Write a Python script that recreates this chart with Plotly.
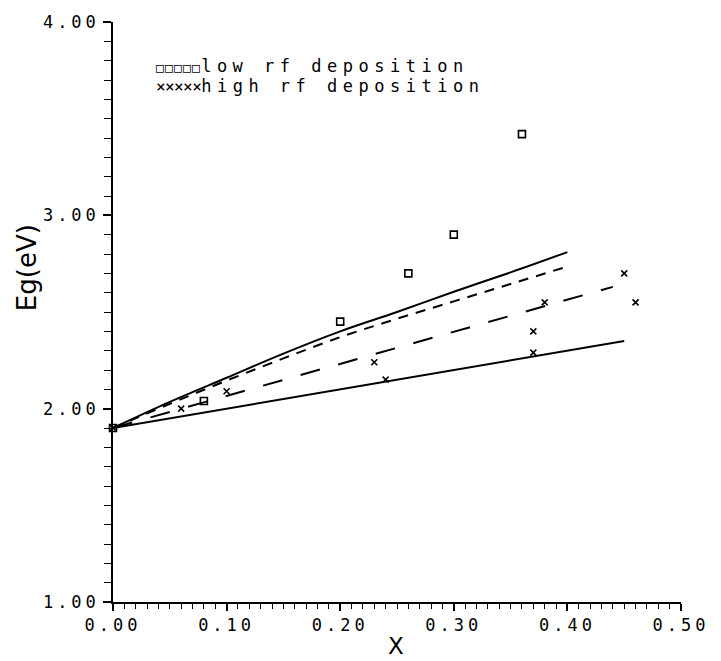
import plotly.graph_objects as go

# ---- data ----
low_x = [0.00, 0.08, 0.20, 0.26, 0.30, 0.36]
low_y = [1.90, 2.04, 2.45, 2.70, 2.90, 3.42]

high_x = [0.00, 0.06, 0.10, 0.23, 0.24, 0.37, 0.37, 0.38, 0.45, 0.46]
high_y = [1.90, 2.00, 2.09, 2.24, 2.15, 2.40, 2.29, 2.55, 2.70, 2.55]

upper_x = [0.00, 0.05, 0.10, 0.15, 0.20, 0.25, 0.30, 0.35, 0.40]
upper_y = [1.90, 2.035, 2.16, 2.285, 2.40, 2.50, 2.605, 2.705, 2.81]

short_x = [0.00, 0.05, 0.10, 0.15, 0.20, 0.25, 0.30, 0.35, 0.40]
short_y = [1.90, 2.025, 2.145, 2.26, 2.37, 2.465, 2.555, 2.645, 2.735]

long_x = [0.00, 0.44]
long_y = [1.90, 2.63]

lower_x = [0.00, 0.45]
lower_y = [1.90, 2.35]

x_ticks = [0.0, 0.1, 0.2, 0.3, 0.4, 0.5]
x_ticklabels = ["0.00", "0.10", "0.20", "0.30", "0.40", "0.50"]
y_ticks = [1, 2, 3, 4]
y_ticklabels = ["1.00", "2.00", "3.00", "4.00"]

legend_labels = ["low rf deposition", "high rf deposition"]
legend_marks = ["\u25a1", "\u00d7"]
legend_mark_sizes = [13, 16]

MONO = "DejaVu Sans Mono"
SANS = "DejaVu Sans"


def spaced(s, px):
    return '<span style="letter-spacing:%spx">%s</span>' % (px, s)


fig = go.Figure()

line_style = dict(color="black", width=2)
fig.add_trace(go.Scatter(x=upper_x, y=upper_y, mode="lines", line=dict(line_style, shape="spline"),
                         showlegend=False))
fig.add_trace(go.Scatter(x=short_x, y=short_y, mode="lines",
                         line=dict(line_style, dash="10px,8px", shape="spline"), showlegend=False))
fig.add_trace(go.Scatter(x=long_x, y=long_y, mode="lines",
                         line=dict(line_style, dash="20px,19px"), showlegend=False))
fig.add_trace(go.Scatter(x=lower_x, y=lower_y, mode="lines", line=line_style, showlegend=False))

fig.add_trace(go.Scatter(x=low_x, y=low_y, mode="markers", cliponaxis=False,
                         marker=dict(symbol="square-open", size=7, color="black", line=dict(width=1.6)),
                         showlegend=False))
fig.add_trace(go.Scatter(x=high_x, y=high_y, mode="markers", cliponaxis=False,
                         marker=dict(symbol="x-thin-open", size=6, color="black",
                                     line=dict(width=1.6, color="black")),
                         showlegend=False))

# legend drawn as text, as in the reference
legend_y = [0.924, 0.890]
for mark, msize, label, yy in zip(legend_marks, legend_mark_sizes, legend_labels, legend_y):
    marks = '<span style="font-size:%dpx;letter-spacing:%spx">%s</span>' % (
        msize, 9 - msize * 0.6, mark * 5)
    txt = marks + spaced(label, 5.5)
    fig.add_annotation(xref="paper", yref="paper", x=0.072, y=yy, xanchor="left", yanchor="middle",
                       text=txt, showarrow=False,
                       font=dict(family=MONO, size=17, color="black"))

# axis titles placed as in the reference
fig.add_annotation(xref="paper", yref="paper", x=-0.150, y=0.577, xanchor="center", yanchor="middle",
                   text="Eg(eV)", textangle=-90, showarrow=False,
                   font=dict(family=SANS, size=26, color="black"))
fig.add_annotation(xref="paper", yref="paper", x=0.498, y=-0.076, xanchor="center", yanchor="middle",
                   text="X", showarrow=False,
                   font=dict(family=SANS, size=23, color="black"))

tickfont = dict(family=MONO, size=17, color="black")
fig.update_xaxes(showline=True, linecolor="black", linewidth=1.5, showgrid=False, zeroline=False,
                 ticks="outside", tickcolor="black", tickwidth=1.5, ticklen=7,
                 range=[0, 0.5], tickvals=x_ticks, ticktext=[spaced(t, 4) for t in x_ticklabels],
                 tickfont=tickfont,
                 minor=dict(dtick=0.01, ticklen=5, tickcolor="black", tickwidth=1.2, ticks="outside"))
fig.update_yaxes(showline=True, linecolor="black", linewidth=1.5, showgrid=False, zeroline=False,
                 ticks="outside", tickcolor="black", tickwidth=1.5, ticklen=8,
                 range=[1, 4], tickvals=y_ticks, ticktext=[spaced(t, 4) for t in y_ticklabels],
                 tickfont=tickfont,
                 minor=dict(dtick=0.1, ticklen=7, tickcolor="black", tickwidth=1.3, ticks="outside"))

fig.update_layout(width=721, height=661, margin=dict(l=113, r=29, t=21, b=59),
                  plot_bgcolor="white", paper_bgcolor="white", showlegend=False)

fig.write_html("out.html")
